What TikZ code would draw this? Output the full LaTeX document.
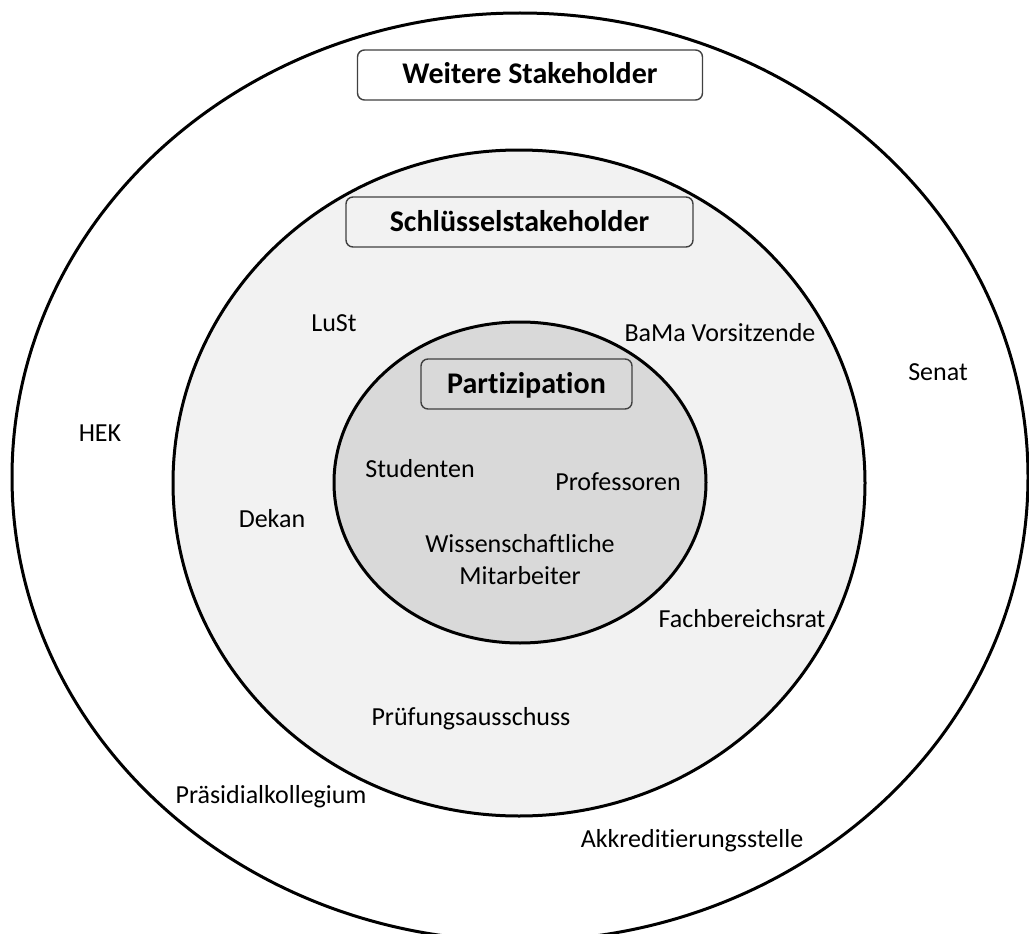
\documentclass[tikz,border=0pt]{standalone}
\usepackage{fontspec}
\setmainfont[Ligatures=NoCommon]{Carlito}
\begin{document}
\begin{tikzpicture}[x=1pt,y=-1pt,
  ring/.style={draw=black,line width=3pt},
  tag/.style={draw=black!75,line width=1.4pt,rounded corners=7pt,
    font=\fontsize{30}{34}\selectfont\bfseries,inner sep=0pt,
    text height=22pt,text depth=4pt},
  item/.style={font=\fontsize{26}{30}\selectfont,anchor=base,inner sep=0pt}]
  \useasboundingbox (0,0) rectangle (1029,934);
  \fill[white] (0,0) rectangle (1029,934);

  % the three nested circles of stakeholders
  \draw[ring,fill=white] (520,477) ellipse [x radius=508, y radius=464];
  \draw[ring,fill=black!5] (519,483) ellipse [x radius=346, y radius=333];
  \draw[ring,fill=black!15] (520,482.5) ellipse [x radius=186, y radius=160.5];

  % headings of the circles
  \node[tag,fill=white,minimum width=345pt,minimum height=50pt] (weitere) at (530,75) {Weitere Stakeholder};
  \node[tag,fill=black!5,minimum width=347pt,minimum height=50pt] (schluessel) at (519.5,222) {Schlüsselstakeholder};
  \node[tag,fill=black!15,minimum width=211pt,minimum height=50pt] (partizipation) at (526.5,384) {Partizipation};

  % outer ring
  \node[item] (hek) at (100,441) {HEK};
  \node[item] (senat) at (938,380) {Senat};
  \node[item] (praes) at (271,803) {Präsidialkollegium};
  \node[item] (akkr) at (692,847) {Akkreditierungsstelle};

  % middle ring
  \node[item] (lust) at (334,331) {LuSt};
  \node[item] (bama) at (720,341) {BaMa Vorsitzende};
  \node[item] (dekan) at (272,527) {Dekan};
  \node[item] (fbr) at (742,627) {Fachbereichsrat};
  \node[item] (pa) at (471,725) {Prüfungsausschuss};

  % inner circle
  \node[item] (stud) at (420,477) {Studenten};
  \node[item] (prof) at (618,490) {Professoren};
  \node[item] (wiss) at (520,552) {Wissenschaftliche};
  \node[item] (mitarb) at (520,584) {Mitarbeiter};
\end{tikzpicture}
\end{document}
